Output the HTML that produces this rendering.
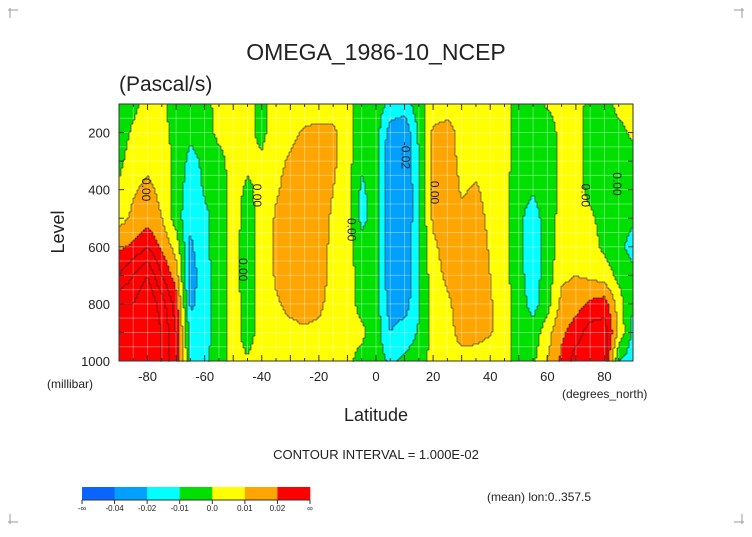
<!DOCTYPE html>
<html><head><meta charset="utf-8"><style>
body{margin:0;background:#fff;}
svg text{font-family:"Liberation Sans",sans-serif;fill:#222;}
</style></head><body>
<svg id="chart" width="752" height="532" viewBox="0 0 752 532" xmlns="http://www.w3.org/2000/svg">
<g id="corners" stroke="#999" stroke-width="1" fill="none">
<path d="M10,8 V18 M8,10 H18"/><path d="M742,8 V18 M734,10 H744"/><path d="M10,514 V524 M8,522 H18"/><path d="M742,514 V524 M734,522 H744"/>
</g>
<text x="376" y="60" font-size="23" text-anchor="middle" fill="#333">OMEGA_1986-10_NCEP</text>
<text x="119" y="91" font-size="21" fill="#333">(Pascal/s)</text>
<g id="plot"></g>
<g id="axes"></g>
<text x="64" y="232" font-size="18" text-anchor="middle" transform="rotate(-90 64 232)" fill="#444">Level</text>
<text x="47" y="388" font-size="12" fill="#444">(millibar)</text>
<text x="376" y="421" font-size="18" text-anchor="middle" fill="#444">Latitude</text>
<text x="562" y="398" font-size="12" fill="#444">(degrees_north)</text>
<text x="376" y="459" font-size="13" text-anchor="middle" fill="#333">CONTOUR INTERVAL = 1.000E-02</text>
<text x="487" y="501" font-size="12" fill="#888">(mean) lon:0..357.5</text>
<g id="legend"></g>
</svg>
<script>
const lats=[-90,-85,-80,-75,-70,-65,-60,-55,-50,-45,-40,-35,-30,-25,-20,-15,-10,-5,0,5,10,15,20,25,30,35,40,45,50,55,60,65,70,75,80,85,90];
const levels=[100,200,300,400,500,600,700,800,900,1000];
const omega=[
[-.008,-.006,-.003,.002,.006,.018,.03,.05,.06,.06],
[-.003,.002,.006,.009,.012,.022,.04,.05,.06,.06],
[.004,.006,.008,.012,.015,.03,.05,.06,.06,.06],
[.002,.004,.006,.008,.01,.018,.03,.045,.05,.05],
[-.005,-.004,-.003,-.005,-.005,.006,.015,.025,.03,.03],
[-.004,-.008,-.013,-.015,-.018,-.022,-.025,-.022,-.015,-.012],
[-.004,-.005,-.008,-.009,-.012,-.012,-.014,-.015,-.014,-.012],
[.004,.003,-.004,-.006,-.006,-.005,-.005,-.005,-.005,-.005],
[.006,.006,.005,.004,.004,.004,.004,.004,.004,.003],
[.004,.003,.002,-.002,-.004,-.005,-.005,-.004,-.004,.001],
[-.003,-.003,.002,.003,.004,.004,.004,.004,.004,.004],
[.004,.006,.008,.009,.011,.012,.011,.009,.007,.004],
[.006,.008,.011,.013,.015,.016,.015,.012,.008,.004],
[.006,.011,.014,.016,.017,.016,.015,.013,.009,.005],
[.006,.012,.015,.016,.016,.015,.014,.012,.008,.005],
[.005,.012,.012,.010,.008,.007,.007,.006,.005,.004],
[.002,.004,.004,.004,.004,.004,.004,.004,.003,.002],
[-.004,-.005,-.008,-.012,-.013,-.006,-.004,-.003,.002,-.003],
[-.005,-.005,-.005,-.005,-.005,-.005,-.005,-.005,-.005,-.005],
[-.012,-.025,-.03,-.03,-.03,-.03,-.028,-.025,-.02,-.012],
[-.015,-.028,-.03,-.03,-.03,-.028,-.028,-.025,-.015,-.008],
[-.004,-.008,-.01,-.011,-.011,-.011,-.011,-.011,-.009,-.006],
[.004,.012,.013,.013,.012,.008,.006,.005,.004,.004],
[.005,.014,.015,.016,.015,.014,.012,.008,.006,.004],
[.005,.006,.007,.009,.012,.015,.015,.015,.014,.006],
[.005,.006,.007,.011,.013,.015,.015,.015,.013,.006],
[.005,.006,.006,.007,.008,.009,.010,.011,.011,.004],
[.003,.004,.004,.004,.004,.004,.004,.004,.003,.002],
[-.004,-.005,-.006,-.007,-.008,-.008,-.007,-.005,-.003,-.002],
[-.003,-.006,-.007,-.009,-.014,-.016,-.015,-.014,-.006,-.002],
[.001,-.005,-.006,-.006,-.006,-.006,-.005,-.004,.006,.01],
[.004,.003,.003,.003,.004,.005,.008,.013,.018,.022],
[.004,.004,.004,.004,.005,.006,.01,.016,.025,.035],
[-.003,-.004,-.004,-.003,.002,.004,.008,.022,.035,.04],
[-.004,-.005,-.005,-.005,-.004,-.002,.005,.025,.035,.035],
[.003,-.003,-.005,-.005,-.005,-.006,-.003,.005,.008,-.01],
[.004,.002,-.004,-.005,-.008,-.015,-.006,-.01,-.013,-.015]
];
const bounds=[-0.04,-0.02,-0.01,0,0.01,0.02];
const lineLevels=[-0.02,-0.01,0,0.01,0.02,0.03,0.04,0.05];
const legendLabels=["-\u221e","-0.04","-0.02","-0.01","0.0","0.01","0.02","\u221e"];
const xTicks=[-80,-60,-40,-20,0,20,40,60,80];
const yTicks=[200,400,600,800,1000];
const colors=["#0a64ff","#00a0ff","#00ffff","#00e000","#ffff00","#ffa500","#ff0000"];
const NS="http://www.w3.org/2000/svg";
const X0=119,X1=633,Y0=104,Y1=361;
const xs=l=>X0+(l+90)/180*(X1-X0);
const ys=p=>Y0+(p-100)/900*(Y1-Y0);
function mk(t,a,p){const e=document.createElementNS(NS,t);for(const k in a)e.setAttribute(k,a[k]);p.appendChild(e);return e;}
function val(lat,lev){
 let fi=(lat-lats[0])/(lats[1]-lats[0]);fi=Math.max(0,Math.min(lats.length-1.0001,fi));
 let fj=(lev-levels[0])/(levels[1]-levels[0]);fj=Math.max(0,Math.min(levels.length-1.0001,fj));
 const i=Math.floor(fi),j=Math.floor(fj),a=fi-i,b=fj-j;
 return omega[i][j]*(1-a)*(1-b)+omega[i+1][j]*a*(1-b)+omega[i][j+1]*(1-a)*b+omega[i+1][j+1]*a*b;
}
function cls(v){let c=0;while(c<bounds.length&&v>=bounds[c])c++;return c;}
function lcls(v){let c=0;while(c<lineLevels.length&&v>=lineLevels[c])c++;return c;}
const plot=document.getElementById('plot');
const S=2;
const NX=Math.ceil((X1-X0)/S),NY=Math.ceil((Y1-Y0)/S);
const L=[];
for(let j=0;j<NY;j++){
 const y=Y0+j*S;
 const lev=100+(y+S/2-Y0)/(Y1-Y0)*900;
 const row=[];
 let start=X0,cur=null;
 for(let x=X0;x<=X1;x+=S){
  let c=-1;
  if(x<X1){const lat=-90+(x+S/2-X0)/(X1-X0)*180;const v=val(lat,lev);c=cls(v);row.push(lcls(v));}
  if(cur===null)cur=c;
  if(c!==cur||x>=X1){
   const r=mk('rect',{x:start,y:y,width:Math.min(x,X1)-start+0.5,height:Math.min(S,Y1-y)+0.5,fill:colors[cur]},plot);
   
   
   start=x;cur=c;
  }
 }
 L.push(row);
}
const grid=mk('g',{stroke:'#fff','stroke-opacity':0.35,'stroke-width':1},plot);
for(let l=-85;l<90;l+=5)mk('line',{x1:xs(l),x2:xs(l),y1:Y0,y2:Y1},grid);
for(let p=150;p<1000;p+=50)mk('line',{x1:X0,x2:X1,y1:ys(p),y2:ys(p)},grid);
let d="";
for(let j=0;j<NY;j++)for(let i=0;i<L[j].length;i++){
 const x=X0+i*S,y=Y0+j*S;
 if(i+1<L[j].length&&L[j][i+1]!==L[j][i])d+=`M${x+S} ${y}v${S}`;
 if(j+1<NY&&L[j+1][i]!==L[j][i])d+=`M${x} ${y+S}h${S}`;
}
const cl=mk('path',{d:d,stroke:'#222','stroke-width':0.7,fill:'none','stroke-opacity':0.8},plot);


const axes=document.getElementById('axes');
const fr=mk('rect',{x:X0,y:Y0,width:X1-X0,height:Y1-Y0,fill:'none',stroke:'#333','stroke-width':1},axes);


for(let l=-90;l<=90;l+=5){const T=l%10===0?6:3;mk('line',{x1:xs(l),x2:xs(l),y1:Y1,y2:Y1-T,stroke:'#333'},axes);mk('line',{x1:xs(l),x2:xs(l),y1:Y0,y2:Y0+T,stroke:'#333'},axes);}
for(let p=100;p<=1000;p+=100){mk('line',{x1:X0,x2:X0+5,y1:ys(p),y2:ys(p),stroke:'#333'},axes);mk('line',{x1:X1,x2:X1-5,y1:ys(p),y2:ys(p),stroke:'#333'},axes);}
xTicks.forEach(t=>{const e=mk('text',{x:xs(t),y:381,'font-size':13,'text-anchor':'middle',fill:'#444'},axes);e.textContent=t;
 
 });
yTicks.forEach(t=>{const e=mk('text',{x:110,y:ys(t)+5,'font-size':13,'text-anchor':'end',fill:'#444'},axes);e.textContent=t;
 
 });
const leg=document.getElementById('legend');
const LX=82,LW=(310-82)/colors.length;
colors.forEach((c,i)=>{const r=mk('rect',{x:LX+i*LW,y:487,width:LW+0.3,height:13,fill:c},leg);
 
 });
mk('line',{x1:LX,x2:310,y1:500,y2:500,stroke:'#333'},leg);
legendLabels.forEach((t,i)=>{const x=LX+i*LW;mk('line',{x1:x,x2:x,y1:500,y2:504,stroke:'#333'},leg);
 const e=mk('text',{x:x,y:511,'font-size':8,'text-anchor':'middle',fill:'#333'},leg);e.textContent=t;
 
 });
const labs=[[-82,400,"0.00"],[-48,680,"0.00"],[-43,420,"0.00"],[-10,540,"0.00"],[9,280,"-0.02"],[19,410,"0.00"],[72,420,"0.00"],[83,380,"0.00"]];
labs.forEach(a=>{const x=xs(a[0]),y=ys(a[1]);const e=mk('text',{x:x,y:y,'font-size':12,'text-anchor':'middle',transform:`rotate(90 ${x} ${y})`,fill:'#111'},plot);e.textContent=a[2];
 
 });
</script>
</body></html>
